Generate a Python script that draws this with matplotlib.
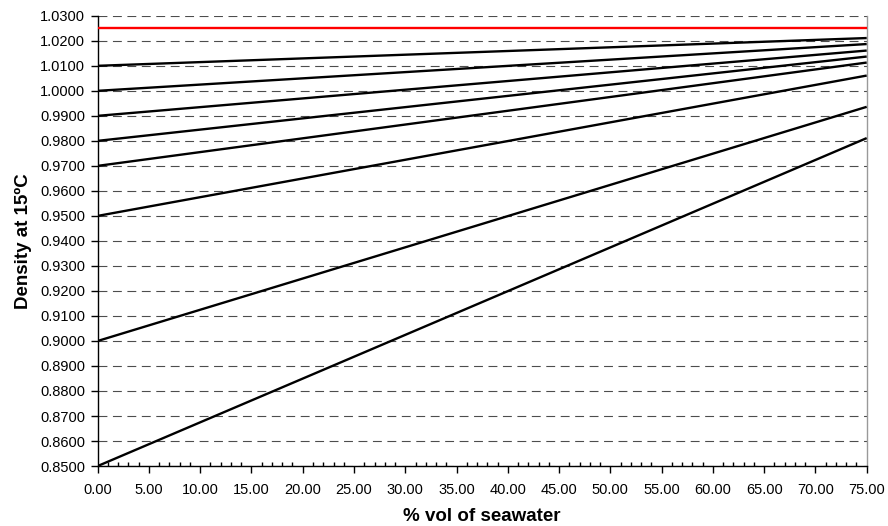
import numpy as np
import matplotlib.pyplot as plt
from matplotlib.ticker import MultipleLocator, FormatStrFormatter

plt.rcParams.update({
    'font.family': ['Liberation Sans', 'DejaVu Sans'],
    'font.size': 10.5,
})

# % vol of seawater: start and end of each mixing line
x_ends = [0.0, 75.0]

# density of the product at 0 % and at 75 % seawater
start_density = [1.0100, 1.0000, 0.9900, 0.9800, 0.9700, 0.9500, 0.9000, 0.8500]
end_density = [1.0211, 1.0187, 1.0161, 1.0137, 1.0113, 1.0061, 0.9936, 0.9811]

# seawater density (red reference line)
seawater_density = 1.0253

fig = plt.figure(figsize=(8.88, 5.26), dpi=100)
ax = fig.add_axes([0.110, 0.114, 0.866, 0.856])

for d0, d1 in zip(start_density, end_density):
    ax.plot(x_ends, [d0, d1], color='black', linewidth=1.7, solid_capstyle='butt', zorder=3)

ax.plot(x_ends, [seawater_density, seawater_density], color='#ff0000', linewidth=1.7, zorder=3)

ax.set_xlim(0, 75)
ax.set_ylim(0.85, 1.03)
ax.xaxis.set_major_locator(MultipleLocator(5))
ax.xaxis.set_minor_locator(MultipleLocator(1))
ax.yaxis.set_major_locator(MultipleLocator(0.01))
ax.xaxis.set_major_formatter(FormatStrFormatter('%.2f'))
ax.yaxis.set_major_formatter(FormatStrFormatter('%.4f'))

ax.grid(axis='y', which='major', color='#4d4d4d', linewidth=0.8, linestyle=(0, (8, 5)))
ax.set_axisbelow(True)

ax.tick_params(axis='x', which='major', direction='out', length=5, width=1, pad=7, labelsize=10.5)
ax.tick_params(axis='x', which='minor', direction='in', length=3, width=1)
ax.tick_params(axis='y', which='major', direction='out', length=5, width=1, pad=4, labelsize=10.5)

for side in ['left', 'bottom']:
    ax.spines[side].set_color('black')
    ax.spines[side].set_linewidth(1)
ax.spines['right'].set_color('#999999')
ax.spines['right'].set_linewidth(1)
ax.spines['top'].set_visible(False)

ax.set_xlabel('% vol of seawater', fontsize=13.5, fontweight='bold', labelpad=8)
ax.set_ylabel('Density at 15ºC', fontsize=13.5, fontweight='bold', labelpad=6)

fig.savefig('out.png', dpi=100, facecolor='white')
